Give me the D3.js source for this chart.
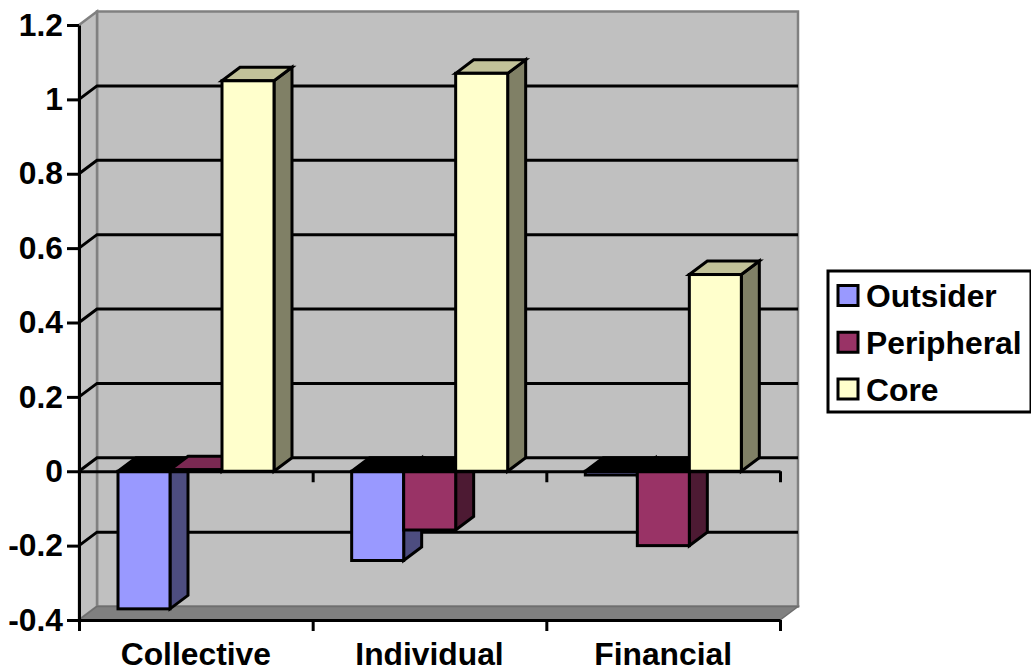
<!DOCTYPE html>
<html>
<head>
<meta charset="utf-8">
<script src="https://cdn.jsdelivr.net/npm/d3@7"></script>
<style>
  html, body { margin: 0; padding: 0; background: #fff; }
  text { font-family: "Liberation Sans", Arial, sans-serif; font-weight: bold; fill: #000; }
</style>
</head>
<body>
<svg id="chart"></svg>
<script>
const SVG_MEASURES = { width: 1031, height: 672 }

const categories = ['Collective', 'Individual', 'Financial']
const seriesNames = ['Outsider', 'Peripheral', 'Core']
const outsider = [-0.37, -0.24, -0.01]
const peripheral = [0.004, -0.158, -0.2]
const core = [1.05, 1.07, 0.529]
const yTicks = [-0.4, -0.2, 0, 0.2, 0.4, 0.6, 0.8, 1, 1.2]

const values = [outsider, peripheral, core]
const frontColors = ['#9999ff', '#993366', '#ffffcc']
const sideColors = ['#4d4d80', '#4d1a33', '#808066']
const topColors = ['#7a7acc', '#7a2952', '#c2c299']

// offset of the back wall from the front plane
const DEPTH = { x: 18, y: -13.5 }
const FONT_SIZE = 31.8
const LINE = 3

const svg = d3.select('#chart')
  .attr('width', SVG_MEASURES.width)
  .attr('height', SVG_MEASURES.height)
  .style('display', 'block')

const y = d3.scaleLinear().domain([-0.4, 1.2]).range([620, 25])
const x = d3.scaleBand().domain(categories).range([79, 780])
const xSeries = d3.scaleBand().domain(seriesNames).range([39, 195])

const xLeft = x.range()[0]
const xRight = x.range()[1]
const yTop = y(1.2)
const yBottom = y(-0.4)
const poly = pts => pts.map(p => p.join(',')).join(' ')

// walls and floor
svg.append('polygon')
  .attr('points', poly([[xLeft + DEPTH.x, yTop + DEPTH.y], [xRight + DEPTH.x, yTop + DEPTH.y], [xRight + DEPTH.x, yBottom + DEPTH.y], [xLeft + DEPTH.x, yBottom + DEPTH.y]]))
  .attr('fill', '#c0c0c0').attr('stroke', '#808080').attr('stroke-width', 2.5)
svg.append('polygon')
  .attr('points', poly([[xLeft, yTop], [xLeft + DEPTH.x, yTop + DEPTH.y], [xLeft + DEPTH.x, yBottom + DEPTH.y], [xLeft, yBottom]]))
  .attr('fill', '#c0c0c0').attr('stroke', '#808080').attr('stroke-width', 2.5)
svg.append('polygon')
  .attr('points', poly([[xLeft, yBottom], [xLeft + DEPTH.x, yBottom + DEPTH.y], [xRight + DEPTH.x, yBottom + DEPTH.y], [xRight, yBottom]]))
  .attr('fill', '#808080').attr('stroke', '#6e6e6e').attr('stroke-width', 1.5)

// gridlines run across the back wall and down the side wall
const gridVals = yTicks.filter(d => d > -0.4 && d < 1.2)
svg.append('g').selectAll('polyline')
  .data(gridVals)
  .join('polyline')
    .attr('points', d => poly([[xLeft, y(d)], [xLeft + DEPTH.x, y(d) + DEPTH.y], [xRight + DEPTH.x, y(d) + DEPTH.y]]))
    .attr('fill', 'none')
    .attr('stroke', '#000')
    .attr('stroke-width', LINE)

// bars, left to right so later ones overlap earlier sides
const bars = svg.append('g')
categories.forEach((cat, c) => {
  seriesNames.forEach((name, s) => {
    const v = values[s][c]
    const x0 = x(cat) + xSeries(name)
    const x1 = x0 + xSeries.bandwidth()
    const yHigh = y(Math.max(v, 0))
    const yLow = y(Math.min(v, 0))
    const g = bars.append('g')
      .attr('stroke', '#000')
      .attr('stroke-width', LINE)
      .attr('stroke-linejoin', 'miter')
    g.append('polygon')
      .attr('points', poly([[x1, yHigh], [x1 + DEPTH.x, yHigh + DEPTH.y], [x1 + DEPTH.x, yLow + DEPTH.y], [x1, yLow]]))
      .attr('fill', sideColors[s])
    g.append('polygon')
      .attr('points', poly([[x0, yHigh], [x0 + DEPTH.x, yHigh + DEPTH.y], [x1 + DEPTH.x, yHigh + DEPTH.y], [x1, yHigh]]))
      .attr('fill', v < 0 ? '#000' : topColors[s])
    g.append('rect')
      .attr('x', x0)
      .attr('y', yHigh)
      .attr('width', x1 - x0)
      .attr('height', yLow - yHigh)
      .attr('fill', frontColors[s])
  })
})

// zero line with its tick marks
const boundaries = [xLeft, x('Individual'), x('Financial'), xRight]
const xScaleTicks = d3.scaleLinear().domain([xLeft, xRight]).range([xLeft, xRight])
const zeroAxis = svg.append('g')
  .attr('transform', `translate(0,${y(0)})`)
  .call(d3.axisBottom(xScaleTicks).tickValues(boundaries.slice(1)).tickSize(11).tickSizeOuter(0).tickFormat(''))
zeroAxis.selectAll('path, line').attr('stroke', '#000').attr('stroke-width', LINE)

// bottom axis, labels centred under each group
const bottomAxis = svg.append('g')
  .attr('transform', `translate(0,${yBottom})`)
  .call(d3.axisBottom(xScaleTicks).tickValues(boundaries).tickSize(11).tickSizeOuter(0).tickFormat(''))
bottomAxis.selectAll('path, line').attr('stroke', '#000').attr('stroke-width', LINE)

svg.append('g').selectAll('text')
  .data(categories)
  .join('text')
    .attr('x', d => x(d) + x.bandwidth() / 2)
    .attr('y', 665)
    .attr('text-anchor', 'middle')
    .attr('font-size', FONT_SIZE)
    .text(d => d)

// value axis
const leftAxis = svg.append('g')
  .attr('transform', `translate(${xLeft},0)`)
  .call(d3.axisLeft(y).tickValues(yTicks).tickSize(12).tickSizeOuter(0).tickPadding(4).tickFormat(d => String(d)))
leftAxis.selectAll('path, line').attr('stroke', '#000').attr('stroke-width', LINE)
leftAxis.selectAll('text')
  .attr('font-size', FONT_SIZE)
  .attr('font-family', '"Liberation Sans", Arial, sans-serif')

// legend
const legend = svg.append('g')
legend.append('rect')
  .attr('x', 828).attr('y', 271)
  .attr('width', 203).attr('height', 141)
  .attr('fill', '#fff').attr('stroke', '#000').attr('stroke-width', LINE)
const legendY = d3.scalePoint().domain(seriesNames).range([295.5, 389])
seriesNames.forEach((name, s) => {
  legend.append('rect')
    .attr('x', 838).attr('y', legendY(name) - 10)
    .attr('width', 20).attr('height', 20)
    .attr('fill', frontColors[s]).attr('stroke', '#000').attr('stroke-width', LINE)
  legend.append('text')
    .attr('x', 866).attr('y', legendY(name) + 11.5)
    .attr('font-size', FONT_SIZE)
    .text(name)
})
</script>
</body>
</html>
